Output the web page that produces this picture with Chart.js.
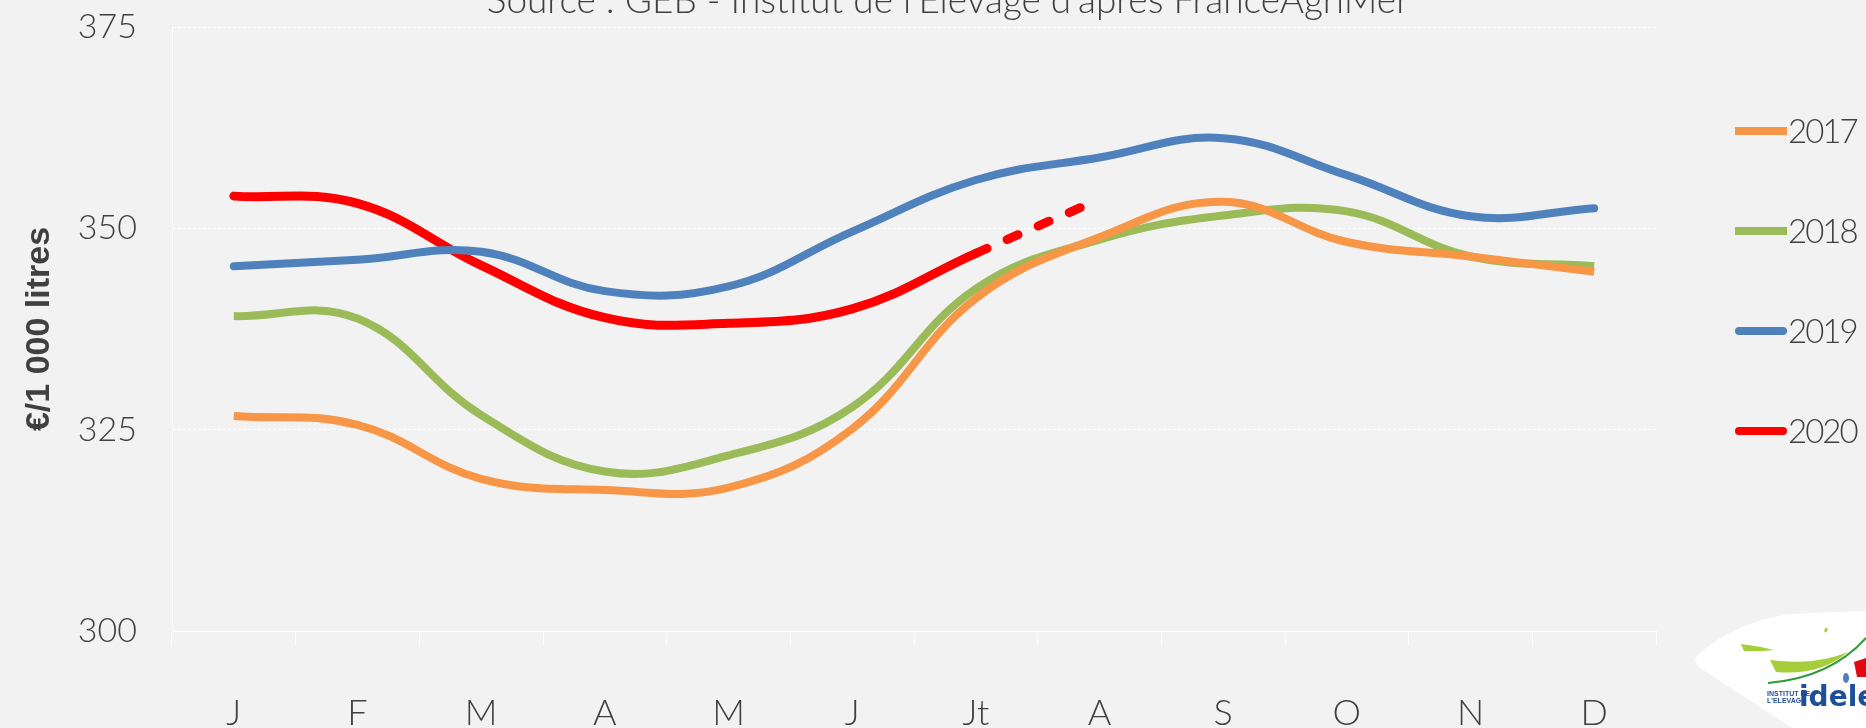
<!DOCTYPE html>
<html>
<head>
<meta charset="utf-8">
<script src="https://cdn.jsdelivr.net/npm/chart.js@4.4.1/dist/chart.umd.min.js"></script>
<style>
    html, body { margin: 0; padding: 0; background: #f2f2f2; }
    #wrap { width: 1866px; height: 728px; position: relative; }
</style>
</head>
<body>
<div id="wrap"><canvas id="prixLait"></canvas></div>
<script>
// Prix du lait standard (€/1 000 litres)
const mois = ['J', 'F', 'M', 'A', 'M', 'J', 'Jt', 'A', 'S', 'O', 'N', 'D'];
const annees = ['2017', '2018', '2019', '2020'];
const prix2017 = [326.7, 325.6, 318.9, 317.5, 317.8, 325.1, 341.3, 348.9, 353.3, 348.3, 346.5, 344.6];
const prix2018 = [339.1, 338.8, 326.8, 319.8, 321.8, 327.8, 342.5, 348.6, 351.6, 352.1, 346.5, 345.3];
const prix2019 = [345.3, 346.1, 347.1, 342.2, 342.8, 349.6, 356.0, 358.8, 361.2, 356.6, 351.5, 352.5];
const prix2020 = [354.0, 353.1, 345.4, 338.9, 338.2, 340.0, 346.9, 353.6];
const couleurs = ['#f79646', '#9bbb59', '#4f81bd', '#ff0000'];
const yMin = 300, yMax = 375, yPas = 25;
const source = "Source : GEB - Institut de l'Elevage d'après FranceAgriMer";
const titreY = '€/1 000 litres';

const police = 'Lato, "Open Sans", sans-serif';
const gris = '#404040';

// 2020 : à partir de juillet = estimation -> pointillés
const indexEstime = 6;

const sourcePlugin = {
    id: 'source',
    afterDraw: (chart) => {
        const ctx = chart.ctx;
        ctx.save();
        ctx.font = '300 37px ' + police;
        ctx.fillStyle = gris;
        ctx.textAlign = 'center';
        ctx.textBaseline = 'alphabetic';
        ctx.fillText(source, 948, 13);
        ctx.restore();
    }
};

const legendePlugin = {
    id: 'legendeDroite',
    afterDraw: (chart) => {
        const ctx = chart.ctx;
        ctx.save();
        ctx.font = '300 33px ' + police;
        ctx.letterSpacing = '-2px';
        ctx.fillStyle = gris;
        ctx.textBaseline = 'middle';
        chart.data.datasets.forEach((ds, i) => {
            const y = 131 + i * 100;
            const rond = ds.borderCapStyle === 'round';
            ctx.strokeStyle = ds.borderColor;
            ctx.lineWidth = 8;
            ctx.lineCap = ds.borderCapStyle;
            ctx.beginPath();
            ctx.moveTo(rond ? 1739 : 1735, y);
            ctx.lineTo(rond ? 1783 : 1787, y);
            ctx.stroke();
            ctx.fillText(ds.label, 1788, y + 1);
        });
        ctx.restore();
    }
};

// petit logo idele en bas à droite
const logoPlugin = {
    id: 'logo',
    afterDraw: (chart) => {
        const ctx = chart.ctx;
        ctx.save();
        ctx.fillStyle = '#ffffff';
        ctx.beginPath();
        ctx.moveTo(1698, 655);
        ctx.quadraticCurveTo(1735, 622, 1790, 614);
        ctx.lineTo(1866, 611);
        ctx.lineTo(1866, 728);
        ctx.lineTo(1792, 728);
        ctx.lineTo(1699, 667);
        ctx.quadraticCurveTo(1692, 661, 1698, 655);
        ctx.fill();

        // feuille vert clair
        ctx.fillStyle = '#a6cd3a';
        ctx.beginPath();
        ctx.moveTo(1741, 644);
        ctx.quadraticCurveTo(1758, 646, 1774, 650);
        ctx.quadraticCurveTo(1758, 652, 1744, 651);
        ctx.closePath();
        ctx.fill();
        ctx.beginPath();
        ctx.moveTo(1770, 660);
        ctx.quadraticCurveTo(1815, 666, 1848, 652);
        ctx.quadraticCurveTo(1820, 676, 1776, 672);
        ctx.closePath();
        ctx.fill();
        ctx.beginPath();
        ctx.ellipse(1826, 630, 1.5, 2.5, 0.4, 0, Math.PI * 2);
        ctx.fill();

        // trait vert foncé
        ctx.strokeStyle = '#2f9a3a';
        ctx.lineWidth = 2;
        ctx.beginPath();
        ctx.moveTo(1768, 683);
        ctx.quadraticCurveTo(1830, 678, 1866, 638);
        ctx.stroke();

        ctx.fillStyle = '#4f7fc0';
        ctx.beginPath();
        ctx.ellipse(1846, 678, 3, 5, 0, 0, Math.PI * 2);
        ctx.fill();
        ctx.fillStyle = '#e30613';
        ctx.beginPath();
        ctx.moveTo(1854, 662);
        ctx.lineTo(1866, 658);
        ctx.lineTo(1866, 677);
        ctx.lineTo(1857, 677);
        ctx.closePath();
        ctx.fill();

        ctx.fillStyle = '#1f4e9a';
        ctx.font = 'bold 7px "Liberation Sans Narrow", "Liberation Sans", sans-serif';
        ctx.textBaseline = 'alphabetic';
        ctx.fillText('INSTITUT DE', 1767, 696);
        ctx.fillText("L'ELEVAGE", 1767, 703);
        ctx.font = 'bold 28px "DejaVu Sans", sans-serif';
        ctx.fillText('idele', 1799, 706);
        ctx.restore();
    }
};

const canvas = document.getElementById('prixLait');
const ctx = canvas.getContext('2d');

const series = [prix2017, prix2018, prix2019, prix2020];
const datasets = series.map((valeurs, i) => ({
    label: annees[i],
    data: valeurs,
    borderColor: couleurs[i],
    backgroundColor: couleurs[i],
    borderWidth: i === 3 ? 9 : 8,
    borderCapStyle: i < 2 ? 'butt' : 'round',
    borderJoinStyle: 'round',
    pointRadius: 0,
    pointHoverRadius: 0,
    tension: 0.4,
    fill: false,
    segment: i === 3 ? {
        borderDash: c => c.p0DataIndex >= indexEstime ? [12, 22] : undefined
    } : undefined
}));

new Chart(ctx, {
    type: 'line',
    data: { labels: mois, datasets: datasets },
    options: {
        responsive: true,
        maintainAspectRatio: false,
        animation: false,
        layout: { padding: { top: 27, right: 210, bottom: 0, left: 0 } },
        plugins: {
            legend: { display: false },
            tooltip: { enabled: false }
        },
        scales: {
            x: {
                offset: true,
                afterFit: (scale) => {
                    scale.height = 97;
                    scale.paddingLeft = 0;
                    scale.paddingRight = 0;
                },
                grid: {
                    display: true,
                    offset: true,
                    drawOnChartArea: false,
                    drawTicks: true,
                    tickLength: 14,
                    color: '#ffffff'
                },
                border: { display: true, color: '#ffffff', width: 1 },
                ticks: {
                    color: gris,
                    padding: 47,
                    font: { family: police, size: 36, weight: 300 }
                }
            },
            y: {
                min: yMin,
                max: yMax,
                afterFit: (scale) => {
                    scale.width = 172;
                    scale.paddingTop = 0;
                    scale.paddingBottom = 0;
                },
                grid: {
                    color: '#ffffff',
                    drawTicks: false
                },
                border: { display: true, color: '#ffffff', width: 1, dash: [3, 2] },
                ticks: {
                    stepSize: yPas,
                    color: gris,
                    padding: 35,
                    font: { family: police, size: 34, weight: 300 }
                },
                title: {
                    display: true,
                    text: titreY,
                    color: gris,
                    padding: { top: 19, bottom: 0 },
                    font: { family: '"Liberation Sans", Arial, sans-serif', size: 34, weight: 'bold' }
                }
            }
        }
    },
    plugins: [sourcePlugin, legendePlugin, logoPlugin]
});
</script>
</body>
</html>
